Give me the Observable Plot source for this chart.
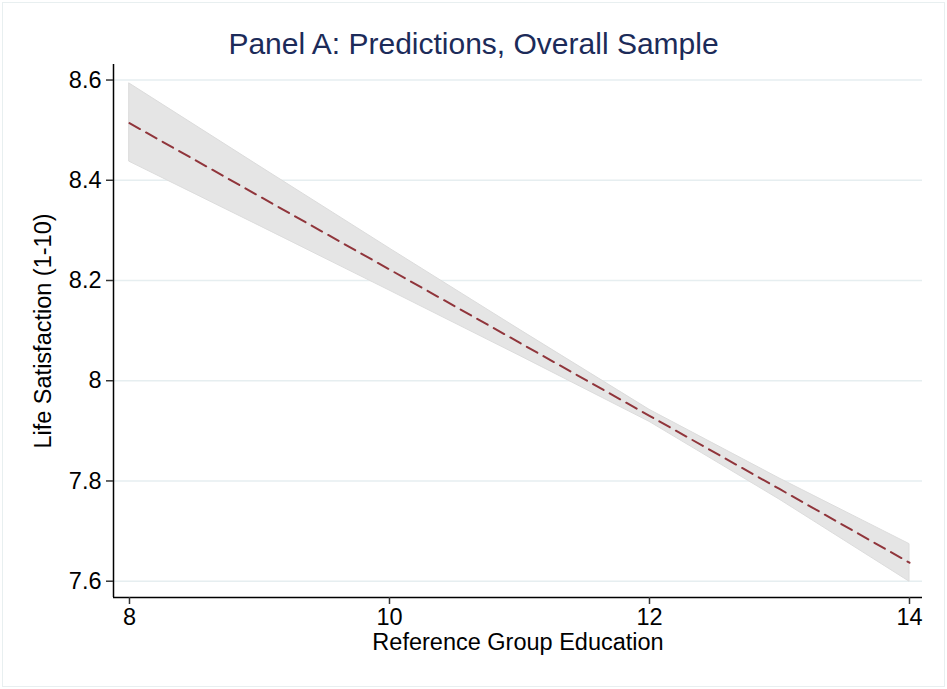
<!DOCTYPE html>
<html><head><meta charset="utf-8">
<script src="https://cdn.jsdelivr.net/npm/d3@7"></script>
<script src="https://cdn.jsdelivr.net/npm/@observablehq/plot@0.6"></script>
<style>
body{margin:0;background:#fff;}
#wrap{position:relative;width:947px;height:689px;}
#title{position:absolute;top:26px;left:0;width:947px;text-align:center;font-family:"Liberation Sans",Arial,sans-serif;font-size:30px;color:#1c2b59;line-height:36px;}
#border{position:absolute;left:2px;top:2px;width:941px;height:683px;border:1px solid #e8eff0;pointer-events:none}
#chart{position:absolute;left:0;top:0;}
</style></head><body>
<div id="wrap"><div id="border"></div><div id="chart"></div><div id="title">Panel A: Predictions, Overall Sample</div></div>
<script>
const educ = [8, 9, 10, 11, 12, 13, 14];
const fit  = [8.514, 8.368, 8.222, 8.076, 7.930, 7.784, 7.637];
const lo   = [8.437, 8.309, 8.180, 8.050, 7.918, 7.763, 7.599];
const hi   = [8.593, 8.428, 8.264, 8.102, 7.942, 7.805, 7.674];
const xTicks = [8, 10, 12, 14];
const yTicks = [7.6, 7.8, 8, 8.2, 8.4, 8.6];
const xDomain = [7.877, 14.1];
const yDomain = [7.5675, 8.631];
const xLabel = "Reference Group Education";
const yLabel = "Life Satisfaction (1-10)";
const rows = educ.map((x, i) => ({x, fit: fit[i], lo: lo[i], hi: hi[i]}));
const font = '"Liberation Sans", Arial, Helvetica, sans-serif';
const chart = Plot.plot({
  width: 947, height: 689,
  marginLeft: 113, marginRight: 25, marginTop: 64, marginBottom: 92,
  style: {fontFamily: font, fontSize: "23.5px", background: "transparent", color: "#000", overflow: "visible"},
  x: {domain: xDomain},
  y: {domain: yDomain},
  marks: [
    Plot.ruleY(yTicks, {stroke: "#e6eef0", strokeWidth: 1.5}),
    Plot.areaY(rows, {x: "x", y1: "lo", y2: "hi", fill: "#e5e5e5", stroke: "#dcdcdc", strokeWidth: 1}),
    Plot.line(rows, {x: "x", y: "fit", stroke: "#90353b", strokeWidth: 2, strokeDasharray: "12,7"}),
    Plot.ruleX([xDomain[0]], {stroke: "#000", strokeWidth: 1.5}),
    Plot.ruleY([yDomain[0]], {stroke: "#000", strokeWidth: 1.5}),
    Plot.axisY({ticks: yTicks, tickSize: 7, tickPadding: 5, label: null, tickFormat: d => String(d), stroke: "#333", strokeWidth: 1.5, fill: "#000"}),
    Plot.axisX({ticks: xTicks, tickSize: 7, tickPadding: 4, label: null, tickFormat: d => String(d), stroke: "#333", strokeWidth: 1.5, fill: "#000"}),
    Plot.text([yLabel], {frameAnchor: "left", dx: -70, rotate: -90, textAnchor: "middle", fill: "#000"}),
    Plot.text([xLabel], {frameAnchor: "bottom", dy: 52, textAnchor: "middle", fill: "#000"})
  ]
});
document.getElementById("chart").appendChild(chart);
</script>
</body></html>
